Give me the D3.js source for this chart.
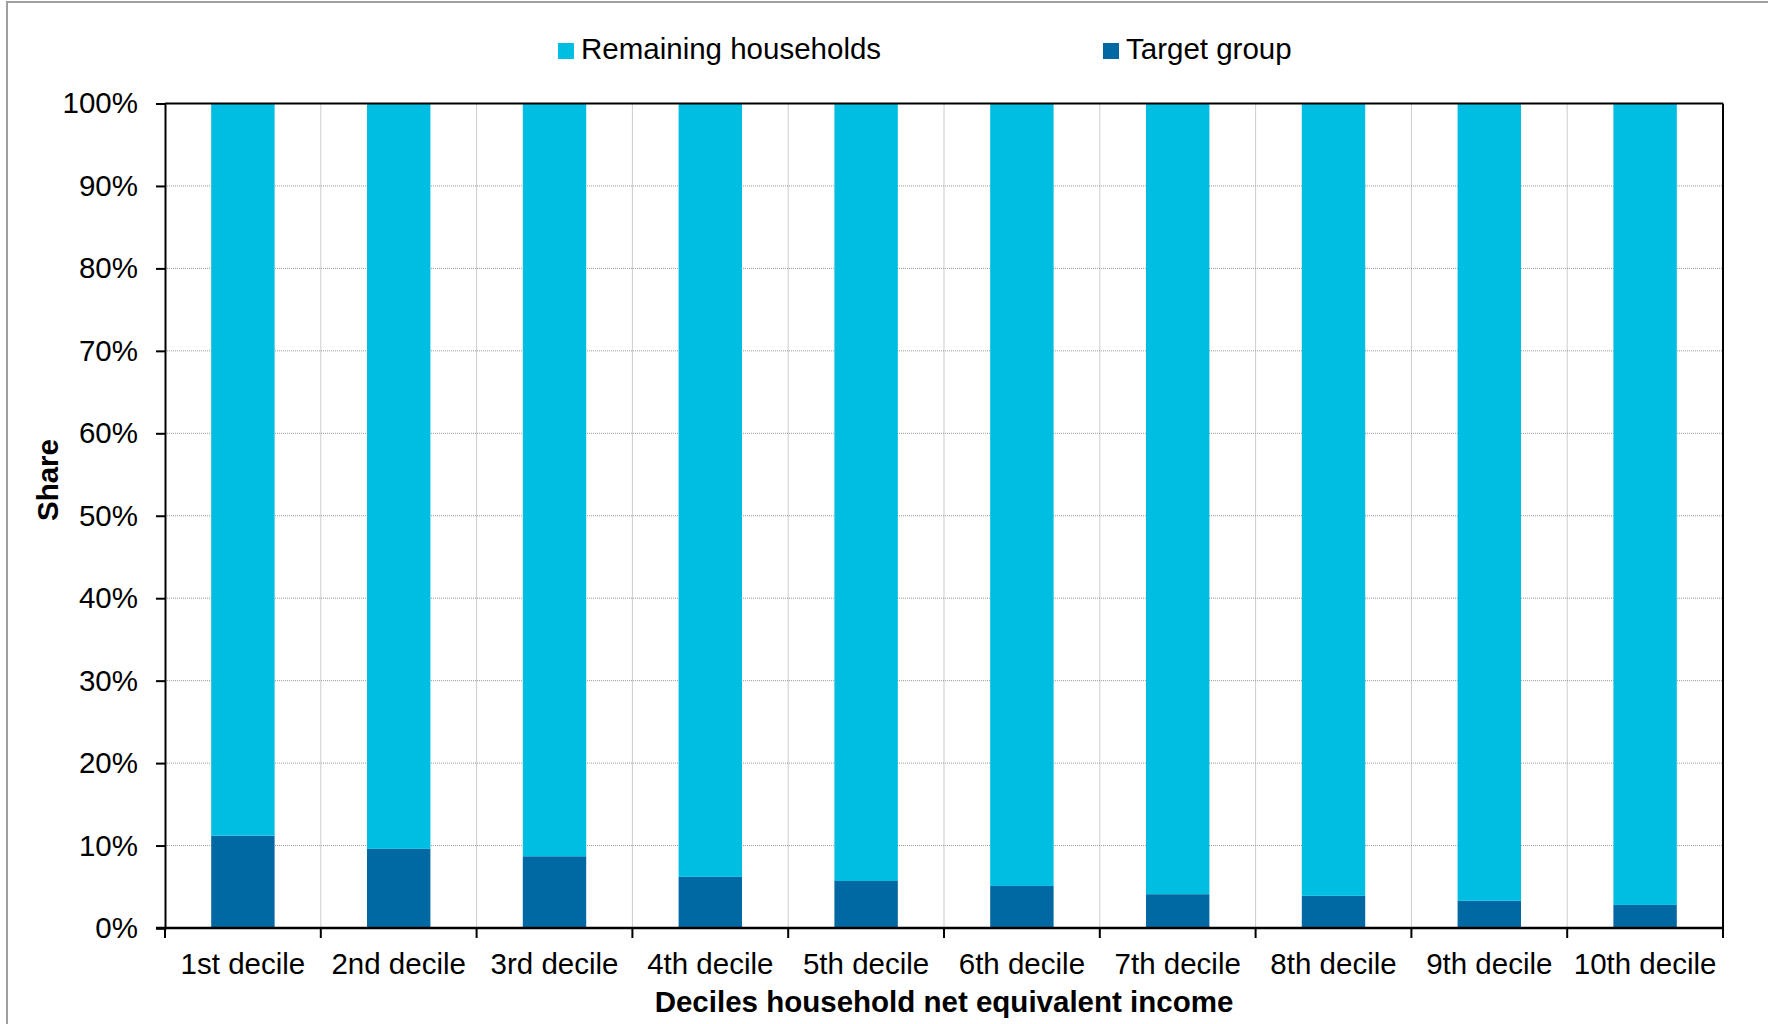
<!DOCTYPE html>
<html>
<head>
<meta charset="utf-8">
<script src="https://cdn.jsdelivr.net/npm/d3@7"></script>
<style>
  html, body { margin: 0; padding: 0; background: #fff; }
  svg { display: block; font-family: Arial, "Liberation Sans", sans-serif; }
</style>
</head>
<body>
<svg id="chart" width="1768" height="1024"></svg>
<script>
const categories = ["1st decile","2nd decile","3rd decile","4th decile","5th decile","6th decile","7th decile","8th decile","9th decile","10th decile"];
const targetGroup = [11.2, 9.6, 8.7, 6.2, 5.7, 5.1, 4.1, 3.9, 3.3, 2.8];
const remainingHouseholds = [88.8, 90.4, 91.3, 93.8, 94.3, 94.9, 95.9, 96.1, 96.7, 97.2];
const yTicks = [0, 10, 20, 30, 40, 50, 60, 70, 80, 90, 100];
const seriesNames = ["Remaining households", "Target group"];
const colors = { "Remaining households": "#00BDE2", "Target group": "#0069A4" };

(function () {
const svg = d3.select("#chart");
const pL = 165, pR = 1723, pT = 103.5, pB = 928;
const FS = 29.5;

// outer chart border
svg.append("rect").attr("x", 7).attr("y", 2).attr("width", 1800).attr("height", 1100)
  .attr("fill", "none").attr("stroke", "#a0a0a0").attr("stroke-width", 2);

const x = d3.scaleBand().domain(categories).range([pL, pR])
  .paddingInner(0.593).paddingOuter(0.2965);
const y = d3.scaleLinear().domain([0, 100]).range([pB, pT]);
const step = x.step();
const gap = (step - x.bandwidth()) / 2;

// horizontal grid
svg.append("g").selectAll("line").data(yTicks.filter(d => d > 0 && d < 100)).join("line")
  .attr("x1", pL).attr("x2", pR)
  .attr("y1", d => y(d)).attr("y2", d => y(d))
  .attr("stroke", "#999").attr("stroke-width", 1).attr("stroke-dasharray", "1,1");
// vertical grid at category boundaries
svg.append("g").selectAll("line").data(categories.slice(1)).join("line")
  .attr("x1", d => x(d) - gap).attr("x2", d => x(d) - gap)
  .attr("y1", pT).attr("y2", pB)
  .attr("stroke", "#999").attr("stroke-width", 1).attr("stroke-dasharray", "1,1");

// stacked data
const rows = categories.map((c, i) => ({ cat: c, "Target group": targetGroup[i], "Remaining households": remainingHouseholds[i] }));
const stack = d3.stack().keys(["Target group", "Remaining households"])(rows);

svg.append("g").selectAll("g").data(stack).join("g")
  .attr("fill", d => colors[d.key])
  .selectAll("rect").data(d => d).join("rect")
  .attr("x", d => x(d.data.cat))
  .attr("width", x.bandwidth())
  .attr("y", d => y(d[1]))
  .attr("height", d => y(d[0]) - y(d[1]));

// plot frame (top & right)
svg.append("line").attr("x1", pL).attr("x2", pR).attr("y1", pT).attr("y2", pT)
  .attr("stroke", "#000").attr("stroke-width", 2);
svg.append("line").attr("x1", pR).attr("x2", pR).attr("y1", pT).attr("y2", pB)
  .attr("stroke", "#000").attr("stroke-width", 2);

// y axis
const yAxis = d3.axisLeft(y).tickValues(yTicks).tickFormat(d => d + "%").tickSize(9).tickPadding(18);
const gy = svg.append("g").attr("transform", `translate(${pL},0)`).call(yAxis);
gy.select(".domain").attr("stroke", "#000").attr("stroke-width", 2);
gy.selectAll(".tick line").attr("stroke", "#000").attr("stroke-width", 2);
gy.selectAll(".tick text").attr("font-size", FS).attr("fill", "#000")
  .attr("font-family", "Arial, 'Liberation Sans', sans-serif");

// x axis
const xAxis = d3.axisBottom(x).tickSize(0).tickPadding(25);
const gx = svg.append("g").attr("transform", `translate(0,${pB})`).call(xAxis);
gx.select(".domain").remove();
svg.append("line").attr("x1", pL - 9).attr("x2", pR).attr("y1", pB).attr("y2", pB)
  .attr("stroke", "#000").attr("stroke-width", 2.5);
gx.selectAll(".tick text").attr("font-size", FS).attr("fill", "#000")
  .attr("font-family", "Arial, 'Liberation Sans', sans-serif");
// x tick marks at category boundaries
const bounds = categories.map(c => x(c) - gap).concat([pR]);
svg.append("g").selectAll("line").data(bounds).join("line")
  .attr("x1", d => d).attr("x2", d => d).attr("y1", pB).attr("y2", pB + 10)
  .attr("stroke", "#000").attr("stroke-width", 2);

// axis titles
svg.append("text").attr("x", (pL + pR) / 2).attr("y", 1012)
  .attr("text-anchor", "middle").attr("font-size", FS).attr("font-weight", "bold")
  .text("Deciles household net equivalent income");
svg.append("text").attr("transform", "translate(58,480) rotate(-90)")
  .attr("text-anchor", "middle").attr("font-size", FS).attr("font-weight", "bold")
  .text("Share");

// legend
const legendPos = [{ sx: 558, tx: 581 }, { sx: 1103, tx: 1126 }];
const lg = svg.append("g").selectAll("g").data(seriesNames).join("g");
lg.append("rect").attr("x", (d, i) => legendPos[i].sx).attr("y", 43)
  .attr("width", 16).attr("height", 16).attr("fill", d => colors[d]);
lg.append("text").attr("x", (d, i) => legendPos[i].tx).attr("y", 59)
  .attr("font-size", FS).attr("fill", "#000").text(d => d);
})();
</script>
</body>
</html>
